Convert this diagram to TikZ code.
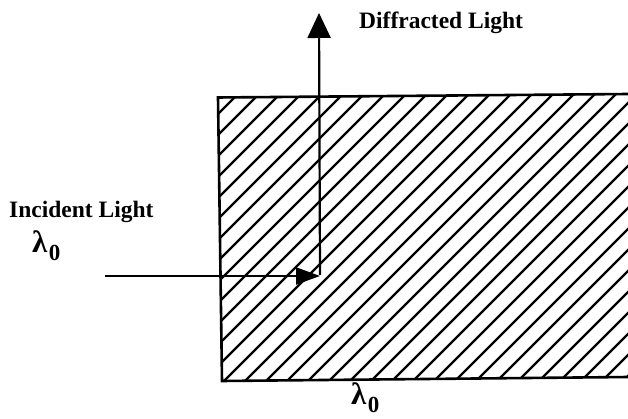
\documentclass[tikz,border=0pt]{standalone}
\usepackage{fontspec}
\setmainfont{Liberation Serif}
\usetikzlibrary{arrows.meta}
\newcommand{\lamnought}{{\fontsize{31}{32}\selectfont\bfseries λ}\kern1.5pt\raisebox{-8pt}{\fontsize{23}{24}\selectfont\bfseries 0}}
\begin{document}
\begin{tikzpicture}[x=1pt,y=1pt,
  border/.style={line width=2.6pt},
  hatch/.style={line width=2.2pt},
  ray/.style={line width=2.2pt},
  lbl/.style={font=\fontsize{23.5}{25}\selectfont\bfseries, inner sep=0pt},
  lam/.style={inner sep=0pt}]
\useasboundingbox (0,0) rectangle (628,419);
% grating
\coordinate (TL) at (218,321.5);
\coordinate (BL) at (222,38);
\coordinate (TR) at (629,325);
\coordinate (BR) at (629,42);
\begin{scope}
  \clip (TL) -- (TR) -- (BR) -- (BL) -- cycle;
  \foreach \i in {0,...,34} {
    \draw[hatch] ({222-300+21*\i},30) -- ++(310,310);
  }
\end{scope}
\draw[border] (TR) -- (TL) -- (BL) -- (BR);
% rays
\coordinate (src) at (105,143);
\coordinate (hit) at (320,143);
\coordinate (out) at (319,406);
\draw[ray,-{Triangle[length=24pt,width=17pt]}] (src) -- (hit);
\draw[ray,-{Triangle[length=25pt,width=23pt]}] ([yshift=1pt]hit) -- (out);
% labels
\node[lbl,anchor=west] (diff) at (359,396) {Diffracted Light};
\node[lbl,anchor=west] (inc) at (9,207) {Incident Light};
\node[lam,anchor=base west] (l1) at (32,166) {\lamnought};
\node[lam,anchor=base west] (l2) at (351,14) {\lamnought};
\end{tikzpicture}
\end{document}
